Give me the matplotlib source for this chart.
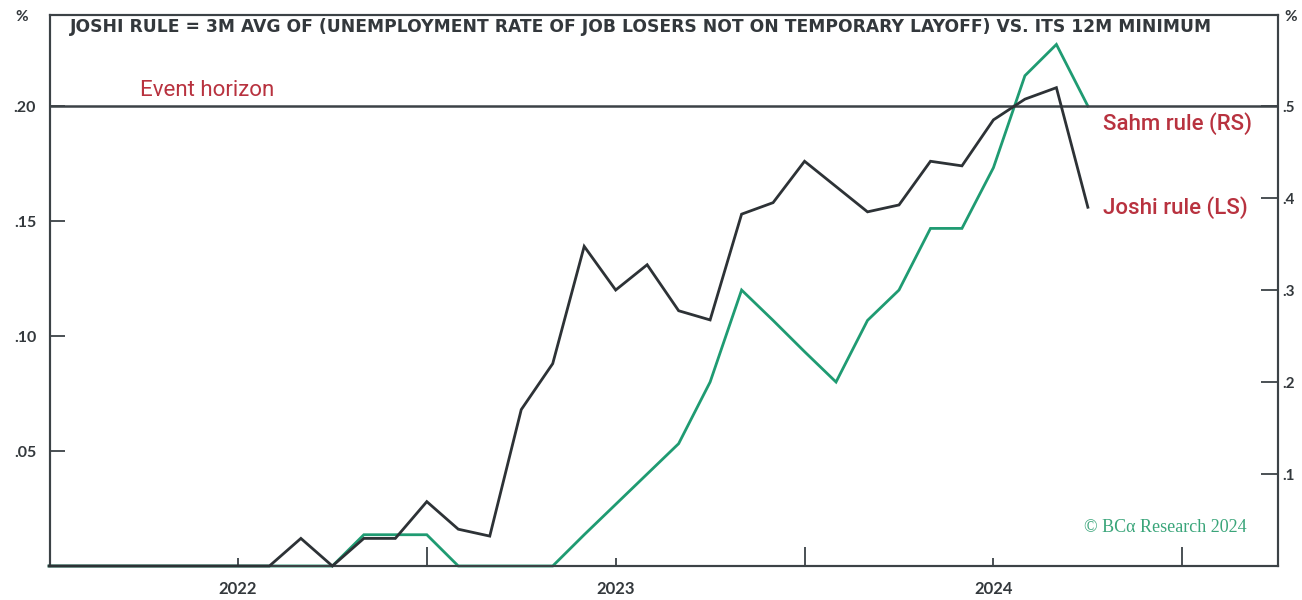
import matplotlib
matplotlib.use("Agg")
import matplotlib.pyplot as plt
import numpy as np

# ---- data (monthly, Jul 2021 .. Apr 2024) ----
month_index = list(range(34))  # 0 = Jul 2021
joshi = [0, 0, 0, 0, 0, 0, 0,            # Jul21-Jan22
         0, 0.012, 0, 0.012, 0.012,       # Feb22-Jun22
         0.028, 0.016, 0.013, 0.068, 0.088, 0.139,   # Jul22-Dec22
         0.120, 0.131, 0.111, 0.107, 0.153, 0.158,   # Jan23-Jun23
         0.176, 0.165, 0.154, 0.157, 0.176, 0.174,   # Jul23-Dec23
         0.194, 0.203, 0.208, 0.156]                 # Jan24-Apr24
sahm = [0, 0, 0, 0, 0, 0, 0,              # Jul21-Jan22
        0, 0, 0, 0.034, 0.034,            # Feb22-Jun22
        0.034, 0, 0, 0, 0, 0.034,         # Jul22-Dec22
        0.067, 0.100, 0.133, 0.200, 0.300, 0.267,   # Jan23-Jun23
        0.233, 0.200, 0.267, 0.300, 0.367, 0.367,   # Jul23-Dec23
        0.433, 0.533, 0.567, 0.500]                 # Jan24-Apr24

year_tick_pos = [6, 18, 30]
year_labels = ["2022", "2023", "2024"]
mid_tick_pos = [12, 24, 36]
left_ticks = [0.05, 0.10, 0.15, 0.20]
left_labels = [".05", ".10", ".15", ".20"]
right_ticks = [0.1, 0.2, 0.3, 0.4, 0.5]
right_labels = [".1", ".2", ".3", ".4", ".5"]
event_horizon = 0.20

title = "JOSHI RULE = 3M AVG OF (UNEMPLOYMENT RATE OF JOB LOSERS NOT ON TEMPORARY LAYOFF) VS. ITS 12M MINIMUM"

# ---- style ----
DARK = "#2d3236"
GREEN = "#1f9b72"
RED = "#b8323f"
AXC = "#3c4246"

fig = plt.figure(figsize=(13.02, 6.0), dpi=100)
ax = fig.add_axes([50/1302, 34/600, (1278-50)/1302, (566-15)/600])
ax2 = ax.twinx()

ax.set_xlim(0.03, 39.04)
ax.set_ylim(0, 0.2396)
ax2.set_ylim(0, 0.599)

ax.axhline(event_horizon, color=AXC, lw=1.8, zorder=1)

ax.plot(month_index, joshi, color=DARK, lw=2.0, zorder=3, clip_on=False,
        solid_joinstyle="miter")
ax2.plot(month_index, sahm, color=GREEN, lw=2.0, zorder=4, clip_on=False,
         solid_joinstyle="miter")

for a in (ax, ax2):
    for s in a.spines.values():
        s.set_color(AXC)
        s.set_linewidth(1.5)

# x ticks
ax.set_xticks(year_tick_pos)
ax.set_xticklabels(year_labels)
ax.set_xticks(mid_tick_pos, minor=True)
ax.tick_params(axis="x", which="major", direction="in", length=6, width=1.3,
               color=AXC, pad=11, labelsize=12, labelcolor="#33383c")
ax.tick_params(axis="x", which="minor", direction="in", length=14, width=1.3,
               color=AXC)
for t in ax.get_xticklabels():
    t.set_fontfamily("Lato")
    t.set_fontweight("bold")

ax.set_yticks(left_ticks)
ax.set_yticklabels(left_labels)
ax.tick_params(axis="y", direction="in", length=11, width=1.3, color=AXC,
               pad=10, labelsize=11.5, labelcolor="#33383c")
for t in ax.get_yticklabels():
    t.set_fontfamily("Lato")
    t.set_fontweight("bold")

ax2.set_yticks(right_ticks)
ax2.set_yticklabels(right_labels)
ax2.tick_params(axis="y", direction="in", length=12, width=1.3, color=AXC,
                pad=3, labelsize=11, labelcolor="#33383c")
for t in ax2.get_yticklabels():
    t.set_fontfamily("Lato")
    t.set_fontweight("bold")

ax.set_zorder(ax2.get_zorder() + 1)
ax.patch.set_visible(False)

# texts
fig.text(22/1302, 1 - 17/600, "%", fontsize=11, fontweight="bold", color="#33383c",
         family="Lato", ha="center", va="center")
fig.text(1291/1302, 1 - 17/600, "%", fontsize=11, fontweight="bold", color="#33383c",
         family="Lato", ha="center", va="center")

fig.text(70/1302, 1 - 27/600, title, fontsize=12.3, fontweight="bold",
         color="#33383c", family="DejaVu Sans", ha="left", va="center")

fig.text(140/1302, 1 - 90/600, "Event horizon", fontsize=16, color=RED,
         family="Roboto", ha="left", va="center")
fig.text(1103/1302, 1 - 124/600, "Sahm rule (RS)", fontsize=16, color=RED,
         family="Roboto", fontweight="medium", ha="left", va="center")
fig.text(1103/1302, 1 - 208/600, "Joshi rule (LS)", fontsize=16, color=RED,
         family="Roboto", fontweight="medium", ha="left", va="center")

fig.text(1247/1302, 1 - 528/600, "© BCα Research 2024", fontsize=13,
         color="#3aa57a", family="Liberation Serif", ha="right", va="center")

fig.savefig("out.png", dpi=100)
